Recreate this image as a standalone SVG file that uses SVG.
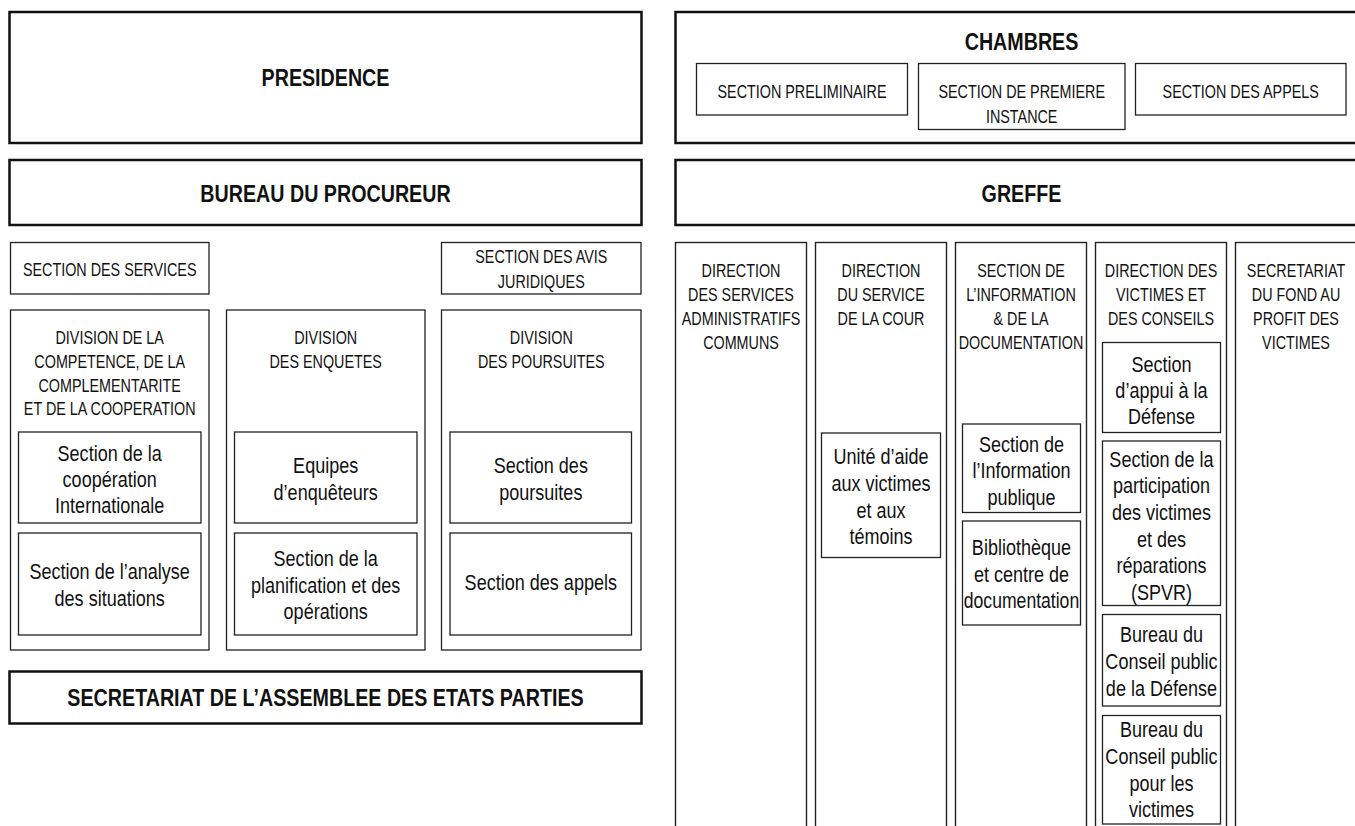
<svg xmlns="http://www.w3.org/2000/svg" width="1355" height="826" viewBox="0 0 1355 826">
<style>
.outer{fill:#fff;stroke:#111;stroke-width:2.5}
.box{fill:#fff;stroke:#222;stroke-width:1.3}
.col{fill:#fff;stroke:#222;stroke-width:1.4}
text{font-family:"Liberation Sans",Arial,sans-serif;text-anchor:middle;fill:#111}
.tb{font-weight:bold;font-size:24px}
.tc{font-size:17.5px}
.ts{font-size:22px}
</style>
<rect width="1355" height="826" fill="#fff"/>
<g id="connectors"></g>

<g id="presidence">
<rect class="outer" x="9.5" y="12" width="632" height="131"/>
<text class="tb" transform="translate(325.5 86) scale(.82 1)">PRESIDENCE</text>
</g>
<g id="bureau-procureur">
<rect class="outer" x="9.5" y="160" width="632" height="65"/>
<text class="tb" transform="translate(325.5 201.5) scale(.82 1)">BUREAU DU PROCUREUR</text>
</g>
<g id="chambres">
<rect class="outer" x="675.5" y="12" width="692" height="131"/>
<text class="tb" transform="translate(1021.5 50) scale(.82 1)">CHAMBRES</text>
</g>
<g id="section-preliminaire">
<rect class="box" x="696.5" y="63.5" width="211" height="51.5"/>
<text class="tc" transform="translate(802 98.3) scale(.82 1)">SECTION PRELIMINAIRE</text>
</g>
<g id="section-premiere-instance">
<rect class="box" x="918.5" y="63.5" width="206.5" height="66"/>
<text class="tc" transform="translate(1021.7 98.3) scale(.82 1)">SECTION DE PREMIERE</text>
<text class="tc" transform="translate(1021.7 122.7) scale(.82 1)">INSTANCE</text>
</g>
<g id="section-appels-chambres">
<rect class="box" x="1135.5" y="63.5" width="210.5" height="51.5"/>
<text class="tc" transform="translate(1240.7 98.3) scale(.82 1)">SECTION DES APPELS</text>
</g>
<g id="greffe">
<rect class="outer" x="675.5" y="160" width="692" height="65"/>
<text class="tb" transform="translate(1021.5 201.5) scale(.82 1)">GREFFE</text>
</g>
<g id="secretariat-aep">
<rect class="outer" x="9.5" y="671.5" width="632" height="52"/>
<text class="tb" transform="translate(325.5 706) scale(.82 1)">SECRETARIAT DE L’ASSEMBLEE DES ETATS PARTIES</text>
</g>

<g id="section-services">
<rect class="box" x="10.5" y="242.5" width="198.5" height="51.5"/>
<text class="tc" transform="translate(109.7 275.7) scale(.82 1)">SECTION DES SERVICES</text>
</g>
<g id="section-avis">
<rect class="box" x="441.5" y="242.5" width="199.5" height="51.5"/>
<text class="tc" transform="translate(541.3 263.3) scale(.82 1)">SECTION DES AVIS</text>
<text class="tc" transform="translate(541.3 287.7) scale(.82 1)">JURIDIQUES</text>
</g>

<g id="division-competence">
<rect class="box" x="10.5" y="310" width="198.5" height="340"/>
<text class="tc" transform="translate(109.7 344.3) scale(.82 1)">DIVISION DE LA</text>
<text class="tc" transform="translate(109.7 368) scale(.82 1)">COMPETENCE, DE LA</text>
<text class="tc" transform="translate(109.7 391.5) scale(.82 1)">COMPLEMENTARITE</text>
<text class="tc" transform="translate(109.7 415) scale(.82 1)">ET DE LA COOPERATION</text>
</g>
<g id="section-cooperation">
<rect class="box" x="18.5" y="432" width="182.5" height="91"/>
<text class="ts" transform="translate(109.7 461) scale(.82 1)">Section de la</text>
<text class="ts" transform="translate(109.7 487) scale(.82 1)">coopération</text>
<text class="ts" transform="translate(109.7 513) scale(.82 1)">Internationale</text>
</g>
<g id="section-analyse">
<rect class="box" x="18.5" y="533" width="182.5" height="102"/>
<text class="ts" transform="translate(109.7 579) scale(.82 1)">Section de l’analyse</text>
<text class="ts" transform="translate(109.7 605.5) scale(.82 1)">des situations</text>
</g>

<g id="division-enquetes">
<rect class="box" x="226.5" y="310" width="198.5" height="340"/>
<text class="tc" transform="translate(325.7 344.3) scale(.82 1)">DIVISION</text>
<text class="tc" transform="translate(325.7 368) scale(.82 1)">DES ENQUETES</text>
</g>
<g id="equipes-enqueteurs">
<rect class="box" x="234.5" y="432" width="182.5" height="91"/>
<text class="ts" transform="translate(325.7 473.3) scale(.82 1)">Equipes</text>
<text class="ts" transform="translate(325.7 500) scale(.82 1)">d’enquêteurs</text>
</g>
<g id="section-planification">
<rect class="box" x="234.5" y="533" width="182.5" height="102"/>
<text class="ts" transform="translate(325.7 566) scale(.82 1)">Section de la</text>
<text class="ts" transform="translate(325.7 592.5) scale(.82 1)">planification et des</text>
<text class="ts" transform="translate(325.7 618.5) scale(.82 1)">opérations</text>
</g>

<g id="division-poursuites">
<rect class="box" x="441.5" y="310" width="199.5" height="340"/>
<text class="tc" transform="translate(541.3 343.8) scale(.82 1)">DIVISION</text>
<text class="tc" transform="translate(541.3 368) scale(.82 1)">DES POURSUITES</text>
</g>
<g id="section-poursuites">
<rect class="box" x="450" y="432" width="181.5" height="91"/>
<text class="ts" transform="translate(540.8 473.3) scale(.82 1)">Section des</text>
<text class="ts" transform="translate(540.8 499.5) scale(.82 1)">poursuites</text>
</g>
<g id="section-appels-poursuites">
<rect class="box" x="450" y="533" width="181.5" height="102"/>
<text class="ts" transform="translate(540.8 590) scale(.82 1)">Section des appels</text>
</g>

<g id="direction-services-administratifs">
<rect class="col" x="675.5" y="242.5" width="131" height="600"/>
<text class="tc" transform="translate(741 276.5) scale(.82 1)">DIRECTION</text>
<text class="tc" transform="translate(741 300.5) scale(.82 1)">DES SERVICES</text>
<text class="tc" transform="translate(741 324.5) scale(.82 1)">ADMINISTRATIFS</text>
<text class="tc" transform="translate(741 348.5) scale(.82 1)">COMMUNS</text>
</g>
<g id="direction-service-cour">
<rect class="col" x="815.5" y="242.5" width="131" height="600"/>
<text class="tc" transform="translate(881 276.5) scale(.82 1)">DIRECTION</text>
<text class="tc" transform="translate(881 300.5) scale(.82 1)">DU SERVICE</text>
<text class="tc" transform="translate(881 324.5) scale(.82 1)">DE LA COUR</text>
</g>
<g id="unite-aide-victimes">
<rect class="box" x="821.5" y="433" width="119" height="124.5"/>
<text class="ts" transform="translate(881 464.3) scale(.82 1)">Unité d’aide</text>
<text class="ts" transform="translate(881 491) scale(.82 1)">aux victimes</text>
<text class="ts" transform="translate(881 517.7) scale(.82 1)">et aux</text>
<text class="ts" transform="translate(881 544.3) scale(.82 1)">témoins</text>
</g>
<g id="section-information-documentation">
<rect class="col" x="955.5" y="242.5" width="131" height="600"/>
<text class="tc" transform="translate(1021 276.5) scale(.82 1)">SECTION DE</text>
<text class="tc" transform="translate(1021 300.5) scale(.82 1)">L’INFORMATION</text>
<text class="tc" transform="translate(1021 324.5) scale(.82 1)">&amp; DE LA</text>
<text class="tc" transform="translate(1021 348.5) scale(.82 1)">DOCUMENTATION</text>
</g>
<g id="section-information-publique">
<rect class="box" x="962.5" y="424" width="118" height="88.5"/>
<text class="ts" transform="translate(1021.5 451.5) scale(.82 1)">Section de</text>
<text class="ts" transform="translate(1021.5 478) scale(.82 1)">l’Information</text>
<text class="ts" transform="translate(1021.5 504.5) scale(.82 1)">publique</text>
</g>
<g id="bibliotheque">
<rect class="box" x="962.5" y="521" width="118" height="104"/>
<text class="ts" transform="translate(1021.5 555) scale(.82 1)">Bibliothèque</text>
<text class="ts" transform="translate(1021.5 581.5) scale(.82 1)">et centre de</text>
<text class="ts" transform="translate(1021.5 608) scale(.8 1)">documentation</text>
</g>
<g id="direction-victimes-conseils">
<rect class="col" x="1095.5" y="242.5" width="131" height="600"/>
<text class="tc" transform="translate(1161 276.5) scale(.82 1)">DIRECTION DES</text>
<text class="tc" transform="translate(1161 300.5) scale(.82 1)">VICTIMES ET</text>
<text class="tc" transform="translate(1161 324.5) scale(.82 1)">DES CONSEILS</text>
</g>
<g id="section-appui-defense">
<rect class="box" x="1102.5" y="342.5" width="118" height="90"/>
<text class="ts" transform="translate(1161.5 371.5) scale(.82 1)">Section</text>
<text class="ts" transform="translate(1161.5 397.5) scale(.82 1)">d’appui à la</text>
<text class="ts" transform="translate(1161.5 423.5) scale(.82 1)">Défense</text>
</g>
<g id="spvr">
<rect class="box" x="1102.5" y="441" width="118" height="164.5"/>
<text class="ts" transform="translate(1161.5 466.7) scale(.82 1)">Section de la</text>
<text class="ts" transform="translate(1161.5 493.3) scale(.82 1)">participation</text>
<text class="ts" transform="translate(1161.5 520) scale(.82 1)">des victimes</text>
<text class="ts" transform="translate(1161.5 546.7) scale(.82 1)">et des</text>
<text class="ts" transform="translate(1161.5 573.3) scale(.82 1)">réparations</text>
<text class="ts" transform="translate(1161.5 600) scale(.82 1)">(SPVR)</text>
</g>
<g id="bureau-conseil-defense">
<rect class="box" x="1102.5" y="614.5" width="118" height="91.5"/>
<text class="ts" transform="translate(1161.5 642.3) scale(.82 1)">Bureau du</text>
<text class="ts" transform="translate(1161.5 669) scale(.82 1)">Conseil public</text>
<text class="ts" transform="translate(1161.5 695.5) scale(.82 1)">de la Défense</text>
</g>
<g id="bureau-conseil-victimes">
<rect class="box" x="1102.5" y="715.5" width="118" height="108.5"/>
<text class="ts" transform="translate(1161.5 737.3) scale(.82 1)">Bureau du</text>
<text class="ts" transform="translate(1161.5 764) scale(.82 1)">Conseil public</text>
<text class="ts" transform="translate(1161.5 790.7) scale(.82 1)">pour les</text>
<text class="ts" transform="translate(1161.5 816.7) scale(.82 1)">victimes</text>
</g>
<g id="secretariat-fond-victimes">
<rect class="col" x="1235.5" y="242.5" width="131" height="600"/>
<text class="tc" transform="translate(1296 276.5) scale(.82 1)">SECRETARIAT</text>
<text class="tc" transform="translate(1296 300.5) scale(.82 1)">DU FOND AU</text>
<text class="tc" transform="translate(1296 324.5) scale(.82 1)">PROFIT DES</text>
<text class="tc" transform="translate(1296 348.5) scale(.82 1)">VICTIMES</text>
</g>
</svg>
